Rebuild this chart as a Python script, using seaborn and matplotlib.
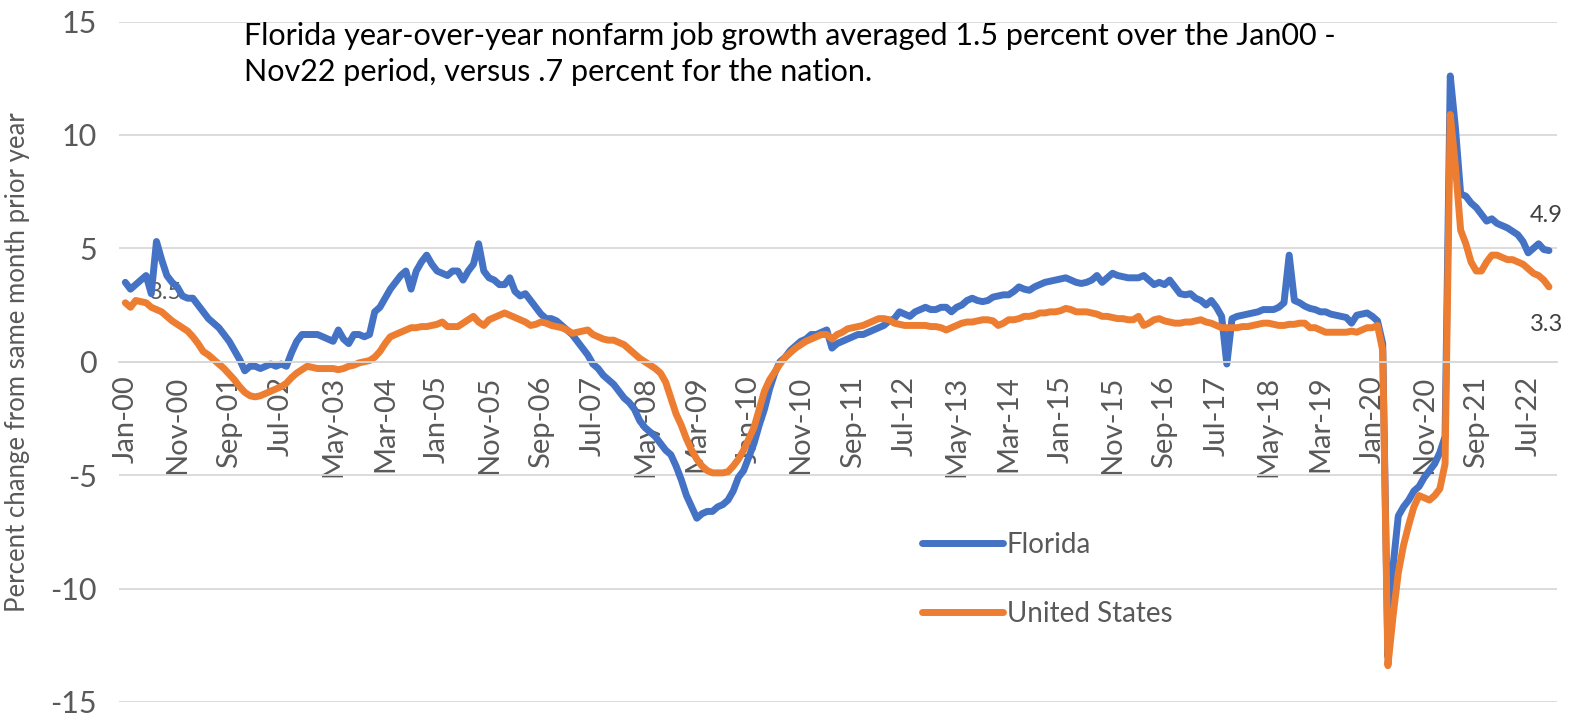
import pandas as pd
import numpy as np
import matplotlib.pyplot as plt
import seaborn as sns
from matplotlib.lines import Line2D

# ---------------------------------
# Data: year-over-year % change in nonfarm jobs, Jan-00 .. Nov-22 (monthly)
# ---------------------------------

months = pd.date_range("2000-01-01", periods=275, freq="MS")
month_labels = [d.strftime("%b-%y") for d in months]

florida = [
    3.5, 3.2, 3.4, 3.6, 3.8, 3.0, 5.3, 4.5, 3.8, 3.5,
    3.3, 2.9, 2.8, 2.8, 2.5, 2.2, 1.9, 1.7, 1.5, 1.2,
    0.9, 0.5, 0.1, -0.4, -0.2, -0.2, -0.3, -0.2, -0.1, -0.2,
    -0.1, -0.2, 0.4, 0.9, 1.2, 1.2, 1.2, 1.2, 1.1, 1.0,
    0.9, 1.4, 1.0, 0.8, 1.2, 1.2, 1.1, 1.2, 2.2, 2.4,
    2.8, 3.2, 3.5, 3.8, 4.0, 3.2, 4.0, 4.4, 4.7, 4.3,
    4.0, 3.9, 3.8, 4.0, 4.0, 3.6, 4.0, 4.3, 5.2, 4.0,
    3.7, 3.6, 3.4, 3.4, 3.7, 3.1, 2.9, 3.0, 2.7, 2.4,
    2.1, 1.9, 1.9, 1.8, 1.6, 1.4, 1.2, 0.9, 0.6, 0.3,
    -0.1, -0.3, -0.6, -0.8, -1.0, -1.3, -1.6, -1.8, -2.1, -2.6,
    -2.9, -3.1, -3.3, -3.6, -3.9, -4.1, -4.6, -5.2, -5.9, -6.4,
    -6.9, -6.7, -6.6, -6.6, -6.4, -6.3, -6.1, -5.7, -5.1, -4.8,
    -4.2, -3.6, -2.8, -2.1, -1.2, -0.5, 0.0, 0.2, 0.5, 0.7,
    0.9, 1.0, 1.2, 1.2, 1.3, 1.4, 0.6, 0.8, 0.9, 1.0,
    1.1, 1.2, 1.2, 1.3, 1.4, 1.5, 1.6, 1.8, 1.9, 2.2,
    2.1, 2.0, 2.2, 2.3, 2.4, 2.3, 2.3, 2.4, 2.4, 2.2,
    2.4, 2.5, 2.7, 2.8, 2.7, 2.65, 2.7, 2.85, 2.9, 2.95,
    2.95, 3.1, 3.3, 3.2, 3.15, 3.3, 3.4, 3.5, 3.55, 3.6,
    3.65, 3.7, 3.6, 3.5, 3.45, 3.5, 3.6, 3.8, 3.5, 3.7,
    3.9, 3.8, 3.75, 3.7, 3.7, 3.7, 3.8, 3.6, 3.4, 3.5,
    3.4, 3.6, 3.3, 3.0, 2.95, 3.0, 2.8, 2.7, 2.5, 2.7,
    2.4, 2.0, -0.1, 1.9, 2.0, 2.05, 2.1, 2.15, 2.2, 2.3,
    2.3, 2.3, 2.4, 2.6, 4.7, 2.7, 2.6, 2.45, 2.35, 2.3,
    2.2, 2.2, 2.1, 2.05, 2.0, 1.95, 1.7, 2.05, 2.1, 2.15,
    2.0, 1.8, 0.8, -13.0, -9.0, -6.8, -6.4, -6.1, -5.7, -5.5,
    -5.1, -4.8, -4.5, -4.0, -3.3, 12.6, 10.3, 7.4, 7.3, 7.0,
    6.8, 6.5, 6.2, 6.3, 6.1, 6.0, 5.9, 5.75, 5.6, 5.3,
    4.8, 5.0, 5.2, 4.95, 4.9,
]

united_states = [
    2.6, 2.4, 2.7, 2.65, 2.6, 2.4, 2.3, 2.2, 2.0, 1.8,
    1.65, 1.5, 1.35, 1.1, 0.8, 0.45, 0.3, 0.1, -0.1, -0.3,
    -0.55, -0.8, -1.1, -1.35, -1.5, -1.55, -1.5, -1.4, -1.3, -1.2,
    -1.1, -0.95, -0.7, -0.5, -0.35, -0.2, -0.25, -0.3, -0.3, -0.3,
    -0.3, -0.35, -0.3, -0.2, -0.15, -0.05, 0.0, 0.05, 0.2, 0.45,
    0.8, 1.1, 1.2, 1.3, 1.4, 1.5, 1.5, 1.55, 1.55, 1.6,
    1.65, 1.75, 1.55, 1.55, 1.55, 1.7, 1.85, 2.0, 1.75, 1.6,
    1.85, 1.95, 2.05, 2.15, 2.05, 1.95, 1.85, 1.75, 1.6, 1.65,
    1.75, 1.7, 1.6, 1.55, 1.5, 1.4, 1.25, 1.3, 1.35, 1.4,
    1.2, 1.1, 1.0, 0.95, 0.95, 0.85, 0.75, 0.55, 0.35, 0.15,
    0.0, -0.15, -0.3, -0.5, -0.9, -1.6, -2.3, -2.8, -3.4, -3.9,
    -4.3, -4.6, -4.8, -4.9, -4.9, -4.9, -4.85, -4.6, -4.3, -3.9,
    -3.4, -2.9, -2.1, -1.3, -0.8, -0.45, -0.1, 0.2, 0.4, 0.6,
    0.75, 0.9, 1.0, 1.1, 1.2, 1.2, 1.0, 1.2, 1.3, 1.45,
    1.5, 1.55, 1.6, 1.7, 1.8, 1.9, 1.9, 1.85, 1.7, 1.65,
    1.6, 1.6, 1.6, 1.6, 1.6, 1.55, 1.55, 1.5, 1.4, 1.5,
    1.6, 1.7, 1.75, 1.75, 1.8, 1.85, 1.85, 1.8, 1.6, 1.7,
    1.85, 1.85, 1.9, 2.0, 2.0, 2.05, 2.15, 2.15, 2.2, 2.2,
    2.25, 2.35, 2.3, 2.2, 2.2, 2.2, 2.15, 2.1, 2.0, 2.0,
    1.95, 1.9, 1.9, 1.85, 1.85, 2.0, 1.6, 1.7, 1.85, 1.9,
    1.8, 1.75, 1.7, 1.7, 1.75, 1.75, 1.8, 1.85, 1.75, 1.7,
    1.6, 1.5, 1.5, 1.5, 1.5, 1.55, 1.55, 1.6, 1.65, 1.7,
    1.7, 1.65, 1.6, 1.6, 1.65, 1.65, 1.7, 1.7, 1.5, 1.5,
    1.4, 1.3, 1.3, 1.3, 1.3, 1.3, 1.35, 1.3, 1.4, 1.5,
    1.5, 1.6, 0.5, -13.4, -11.2, -9.3, -8.1, -7.2, -6.4, -5.9,
    -6.0, -6.1, -5.9, -5.6, -4.5, 10.9, 8.6, 5.8, 5.2, 4.4,
    4.0, 4.0, 4.4, 4.7, 4.7, 4.6, 4.5, 4.5, 4.4, 4.3,
    4.1, 3.9, 3.8, 3.6, 3.3,
]

series_names = ["Florida", "United States"]
colors = ["#4472C4", "#ED7D31"]

note = ("Florida year-over-year nonfarm job growth averaged 1.5 percent over the Jan00 -\n"
        "Nov22 period, versus .7 percent for the nation.")

# ---------------------------------
# Long-format table for seaborn
# ---------------------------------

df = pd.DataFrame({"idx": np.arange(len(months)),
                   "Florida": florida,
                   "United States": united_states})
long_df = df.melt(id_vars="idx", var_name="series", value_name="pct")

# ---------------------------------
# Plot
# ---------------------------------

sns.set_theme(style="white")
plt.rcParams["font.family"] = ["Lato", "DejaVu Sans"]
plt.rcParams["axes.unicode_minus"] = False

fig = plt.figure(figsize=(15.77, 7.17), dpi=100)
ax = fig.add_axes([0.0755, 0.021, 0.912, 0.949])

sns.lineplot(data=long_df, x="idx", y="pct", hue="series",
             hue_order=series_names, palette=colors, estimator=None,
             linewidth=5, legend=False, ax=ax,
             solid_capstyle="round", solid_joinstyle="round")

ax.set_xlim(-1.2, 275.6)
ax.set_ylim(-15, 15)
ax.set_yticks(range(-15, 16, 5))
ax.set_xticks(df["idx"][::10])
ax.set_xticklabels(month_labels[::10])
ax.set_xlabel("")
ax.set_ylabel("")

ax.grid(False)
ax.yaxis.grid(True, color="#D9D9D9", linewidth=1.3)
ax.set_axisbelow(True)
for side in ["top", "right", "left"]:
    ax.spines[side].set_visible(False)
ax.spines["bottom"].set_position(("data", 0))
ax.spines["bottom"].set_color("#D9D9D9")
ax.spines["bottom"].set_linewidth(1.3)

ax.tick_params(axis="x", length=0, pad=10, labelrotation=90,
               labelsize=21, labelcolor="#595959")
ax.tick_params(axis="y", length=0, pad=16, labelsize=22, labelcolor="#595959")

# data labels
ax.annotate(f"{florida[0]}", (0, florida[0]), xytext=(17, -7),
            textcoords="offset points", fontsize=17, color="#595959",
            ha="left", va="center", zorder=1.5)
ax.annotate(f"{florida[-1]}", (len(florida) - 1, florida[-1]), xytext=(-2, 25),
            textcoords="offset points", fontsize=17, color="#404040",
            ha="center", va="center")
ax.annotate(f"{united_states[-1]}", (len(united_states) - 1, united_states[-1]),
            xytext=(-2, -27), textcoords="offset points", fontsize=17,
            color="#404040", ha="center", va="center")

# legend inside the plot
handles = [Line2D([0], [0], color=c, linewidth=5, solid_capstyle="round")
           for c in colors]
leg = ax.legend(handles, series_names, loc="upper left",
                bbox_to_anchor=(922 / 1577, 1 - 532 / 717),
                bbox_transform=fig.transFigure, frameon=False,
                fontsize=20, handlelength=2.9, handletextpad=0.15,
                labelspacing=1.55, borderpad=0, borderaxespad=0)
for t in leg.get_texts():
    t.set_color("#595959")

fig.text(244 / 1577, 1 - 22 / 717, note, ha="left", va="top",
         fontsize=22, color="#000000", linespacing=1.33)

fig.text(18 / 1577, 1 - 362 / 717, "Percent change from same month prior year",
         rotation=90, ha="center", va="center", fontsize=18.5, color="#595959")

fig.savefig("out.png", dpi=100)
